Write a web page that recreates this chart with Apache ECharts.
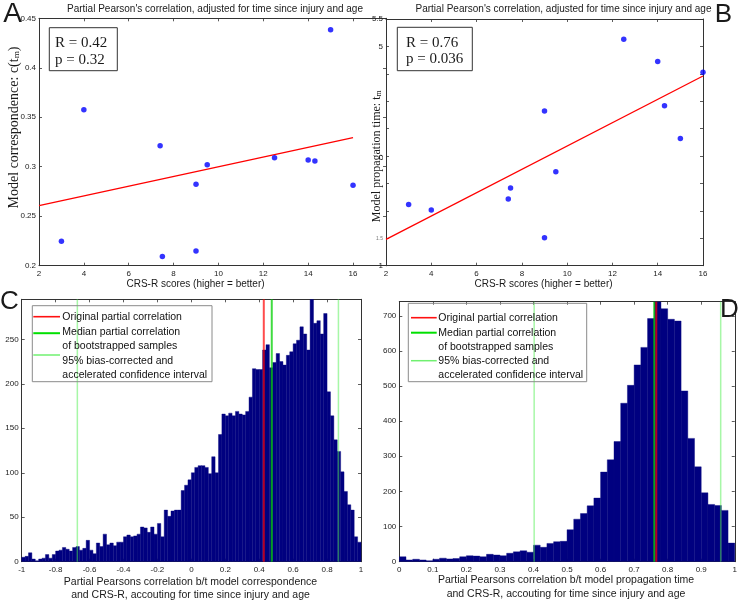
<!DOCTYPE html>
<html><head><meta charset="utf-8">
<script src="https://cdn.jsdelivr.net/npm/echarts@6/dist/echarts.min.js"></script>
<style>html,body{margin:0;padding:0;background:#fff}#c{width:740px;height:601px}</style>
</head><body><div id="c"></div>
<script>
// ---------------- DATA ----------------
const crsScores = [3, 4, 7.4, 7.5, 9, 9, 9.5, 12.5, 14, 14.3, 15, 16];
const correspondenceA = [0.2246, 0.3577, 0.3213, 0.2094, 0.2822, 0.2148, 0.3021, 0.3092, 0.3068, 0.3058, 0.4385, 0.2812];
const fitAx = [2, 16];
const fitAy = [0.2606, 0.3294];
const propagationB = [2.118, 2.015, 2.215, 2.416, 3.821, 1.510, 2.714, 5.129, 4.727, 3.918, 3.322, 4.527];
const fitBx = [2, 16];
const fitBy = [1.479, 4.46];
const statsA = ['R = 0.42', 'p = 0.32'];
const statsB = ['R = 0.76', 'p = 0.036'];

const histCStart = -1, histCWidth = 0.02;
const histC = [5,6,10,3,1,3,4,8,4,8,
  12,13,16,14,12,16,17,13,15,24,
  13,9,21,17,31,19,21,18,22,22,
  28,30,28,29,31,39,38,33,39,31,
  43,28,58,51,57,58,58,80,86,92,
  100,106,108,108,106,99,118,100,143,166,
  164,167,164,169,166,165,169,185,217,216,
  216,238,244,218,224,234,225,221,232,236,
  245,249,264,256,238,295,268,271,256,279,
  191,164,137,124,101,79,64,58,28,22];
const histDStart = 0, histDWidth = 0.02;
const histD = [14,5,7,5,3,7,10,8,9,14,
  17,16,14,21,19,17,24,28,31,27,
  47,41,52,57,58,91,121,137,159,181,
  255,290,342,451,502,560,610,692,742,720,
  690,685,486,351,270,196,163,160,146,53];
const linesC = {orig: 0.427, median: 0.474, ciLow: -0.672, ciHigh: 0.867};
const linesD = {orig: 0.766, median: 0.760, ciLow: 0.402, ciHigh: 0.958};
const legendLabels = ['Original partial correlation', 'Median partial correlation', 'of bootstrapped samples', '95% bias-corrected and', 'accelerated confidence interval'];
const titleTop = "Partial Pearson's correlation, adjusted for time since injury and age";
const xNameTop = 'CRS-R scores (higher = better)';
const yNameA = ['Model correspondence: c(t', 'm', ')'];
const yNameB = ['Model propagation time: t', 'm', ''];
const xNameC = ['Partial Pearsons correlation b/t model correspondence', 'and CRS-R, accouting for time since injury and age'];
const xNameD = ['Partial Pearsons correlation b/t model propagation time', 'and CRS-R, accouting for time since injury and age'];

// ---------------- STYLE / LAYOUT ----------------
const SANS = 'Liberation Sans, Arial, sans-serif';
const SERIF = 'Liberation Serif, Times New Roman, serif';
const AX = '#333';
const TXT = '#1a1a1a';
const fmtNum = v => String(+(+v).toFixed(3));

const grids = [
  {left: 39, top: 18.3, width: 347, height: 247.4},
  {left: 386, top: 19, width: 317, height: 246.7},
  {left: 21.7, top: 299.3, width: 339.3, height: 262.4},
  {left: 399.3, top: 301.7, width: 335.7, height: 260}
];
const ranges = [
  {x: [2, 17.47, 2], y: [0.2, 0.45, 0.05]},
  {x: [2, 16, 2], y: [1, 5.5, 0.5]},
  {x: [-1, 1, 0.2], y: [0, 295, 50]},
  {x: [0, 1, 0.1], y: [0, 740, 100]}
];

const tick = {show: true, inside: true, length: 3, lineStyle: {color: AX, width: 0.8}};
const aline = {show: true, onZero: false, lineStyle: {color: AX, width: 1}};
const lbl = (extra) => Object.assign({show: true, fontSize: 8, color: '#222', fontFamily: SANS, formatter: fmtNum}, extra || {});

const xAxes = [], yAxes = [];
ranges.forEach((r, gi) => {
  const xl = {margin: 4};
  if (gi === 0) xl.showMaxLabel = false;
  xAxes.push({type: 'value', gridIndex: gi, position: 'bottom', min: r.x[0], max: r.x[1], interval: r.x[2],
    axisLine: aline, axisTick: tick, splitLine: {show: false}, axisLabel: lbl(xl)});
  xAxes.push({type: 'value', gridIndex: gi, position: 'top', min: r.x[0], max: r.x[1], interval: r.x[2],
    axisLine: aline, axisTick: tick, splitLine: {show: false}, axisLabel: {show: false}});
  const yl = {margin: 3};
  if (gi >= 2) yl.showMaxLabel = false;
  if (gi === 1) {
    yl.formatter = v => {
      const s = fmtNum(v);
      if (s === '5.5' || s === '5' || s === '1') return s;
      if (s === '1.5') return '{t|1.5}';
      return '';
    };
    yl.rich = {t: {fontSize: 5, color: '#777', fontFamily: SANS}};
  }
  yAxes.push({type: 'value', gridIndex: gi, position: 'left', min: r.y[0], max: r.y[1], interval: r.y[2],
    axisLine: aline, axisTick: tick, splitLine: {show: false}, axisLabel: lbl(yl)});
  yAxes.push({type: 'value', gridIndex: gi, position: 'right', min: r.y[0], max: r.y[1], interval: r.y[2],
    axisLine: aline, axisTick: tick, splitLine: {show: false}, axisLabel: {show: false}});
});

function histSeries(xi, start, width, vals) {
  return {
    type: 'custom', xAxisIndex: xi, yAxisIndex: xi, z: 2, clip: true,
    data: vals.map((h, i) => [start + i * width, start + (i + 1) * width, h]),
    encode: {x: [0, 1], y: 2},
    renderItem: (params, api) => {
      const p0 = api.coord([api.value(0), api.value(2)]);
      const p1 = api.coord([api.value(1), 0]);
      return {type: 'rect', shape: {x: p0[0], y: p0[1], width: p1[0] - p0[0], height: p1[1] - p0[1]},
        style: {fill: '#000080', stroke: '#06067f', lineWidth: 0.4}};
    }
  };
}
function vline(xi, x, ymax, color, width, opacity) {
  return {type: 'line', xAxisIndex: xi, yAxisIndex: xi, z: 4, showSymbol: false, symbol: 'none', silent: true,
    data: [[x, 0], [x, ymax]], lineStyle: {color, width, opacity}};
}

const series = [
  {type: 'line', xAxisIndex: 0, yAxisIndex: 0, z: 2, symbol: 'none', data: fitAx.map((x, i) => [x, fitAy[i]]),
    lineStyle: {color: '#ff0000', width: 1.3}},
  {type: 'scatter', xAxisIndex: 0, yAxisIndex: 0, z: 3, symbolSize: 5.5, data: crsScores.map((x, i) => [x, correspondenceA[i]]),
    itemStyle: {color: '#0000ff'}},
  {type: 'line', xAxisIndex: 2, yAxisIndex: 2, z: 2, symbol: 'none', data: fitBx.map((x, i) => [x, fitBy[i]]),
    lineStyle: {color: '#ff0000', width: 1.3}},
  {type: 'scatter', xAxisIndex: 2, yAxisIndex: 2, z: 3, symbolSize: 5.5, data: crsScores.map((x, i) => [x, propagationB[i]]),
    itemStyle: {color: '#0000ff'}},
  histSeries(4, histCStart, histCWidth, histC),
  vline(4, linesC.ciLow, ranges[2].y[1], '#50f050', 1.5, 0.5),
  vline(4, linesC.ciHigh, ranges[2].y[1], '#50f050', 1.5, 0.5),
  vline(4, linesC.median, ranges[2].y[1], '#00d000', 2, 0.75),
  vline(4, linesC.orig, ranges[2].y[1], '#ff0000', 2, 0.7),
  histSeries(6, histDStart, histDWidth, histD),
  vline(6, linesD.ciLow, ranges[3].y[1], '#50f050', 1.5, 0.5),
  vline(6, linesD.ciHigh, ranges[3].y[1], '#50f050', 1.5, 0.5),
  vline(6, linesD.median, ranges[3].y[1], '#00d000', 2, 0.75),
  vline(6, linesD.orig, ranges[3].y[1], '#ff0000', 2, 0.7)
];

function txt(x, y, text, size, family, align, extra) {
  return Object.assign({type: 'text', x, y, z: 10, silent: true,
    style: {text, fontSize: size, fontFamily: family, fill: TXT, align: align || 'center', verticalAlign: 'middle',
      textAlign: align || 'center', textVerticalAlign: 'middle'}}, extra || {});
}
function legend(bx, by, bw, bh, lx0, lx1, tx, rows, sampleRows) {
  const g = [{type: 'rect', z: 9, silent: true, shape: {x: bx, y: by, width: bw, height: bh},
    style: {fill: 'none', stroke: '#8a8a8a', lineWidth: 1}}];
  legendLabels.forEach((t, i) => g.push({type: 'text', x: tx, y: rows[i], z: 10, silent: true,
    style: {text: t, fontSize: 10.5, fontFamily: SANS, fill: '#111', align: 'left', verticalAlign: 'middle', textAlign: 'left', textVerticalAlign: 'middle'}}));
  const cols = [['#ff1010', 1.6], ['#00e000', 2], ['#70f070', 1.5]];
  sampleRows.forEach((y, i) => g.push({type: 'line', z: 10, silent: true, shape: {x1: lx0, y1: y, x2: lx1, y2: y},
    style: {stroke: cols[i][0], lineWidth: cols[i][1]}}));
  return g;
}
function sub(x, y, parts, size, rot) {
  return {type: 'text', x, y, z: 10, silent: true, rotation: rot,
    style: {text: '{n|' + parts[0] + '}{s|' + parts[1] + '}' + (parts[2] ? '{n|' + parts[2] + '}' : ''),
      fontSize: size, fontFamily: SERIF, fill: TXT,
      align: 'center', verticalAlign: 'middle', textAlign: 'center', textVerticalAlign: 'middle',
      rich: {n: {fontSize: size, fontFamily: SERIF, fill: TXT, color: TXT, verticalAlign: 'bottom'},
             s: {fontSize: size * 0.65, fontFamily: SERIF, fill: TXT, color: TXT, verticalAlign: 'bottom', lineHeight: size * 0.45}}}};
}
const rowsC = [316.7, 332.2, 346.5, 361, 375];
const rowsD = [317.7, 332.7, 346.7, 360.7, 375];

const graphic = [
  txt(12.5, 14.5, 'A', 28, SANS),
  txt(723.5, 14.5, 'B', 26, SANS),
  txt(9.5, 301.5, 'C', 26, SANS),
  txt(729.5, 310, 'D', 26, SANS),
  txt(215, 9.3, titleTop, 10, SANS),
  txt(563.5, 9.3, titleTop, 10, SANS),
  txt(195.5, 284, xNameTop, 10, SANS),
  txt(543.5, 284, xNameTop, 10, SANS),
  txt(190.5, 581.7, xNameC[0], 10.5, SANS),
  txt(190.5, 595.2, xNameC[1], 10.5, SANS),
  txt(566, 580.3, xNameD[0], 10.5, SANS),
  txt(566, 594.3, xNameD[1], 10.5, SANS),
  sub(14, 127.5, yNameA, 14, Math.PI / 2),
  sub(376.7, 156.3, yNameB, 12, Math.PI / 2),
  {type: 'rect', z: 9, silent: true, shape: {x: 49.3, y: 27.7, width: 68, height: 43}, style: {fill: '#fff', stroke: '#333', lineWidth: 1}},
  txt(55, 42.7, statsA[0], 15, SERIF, 'left'),
  txt(55, 60, statsA[1], 15, SERIF, 'left'),
  {type: 'rect', z: 9, silent: true, shape: {x: 397.3, y: 27.3, width: 75, height: 43.4}, style: {fill: '#fff', stroke: '#333', lineWidth: 1}},
  txt(406, 42.7, statsB[0], 15, SERIF, 'left'),
  txt(406, 59.3, statsB[1], 15, SERIF, 'left')
].concat(
  legend(32.3, 305.7, 179.7, 76, 33.3, 60, 62.3, rowsC, [rowsC[0], rowsC[1] + 1, rowsC[3] - 6]),
  legend(408.3, 303.3, 178.4, 78.4, 411, 436.7, 438.3, rowsD, [rowsD[0], rowsD[1], rowsD[3]])
);

const chart = echarts.init(document.getElementById('c'), null, {renderer: 'canvas'});
chart.setOption({
  animation: false,
  backgroundColor: '#fff',
  grid: grids.map(g => Object.assign({containLabel: false, show: false}, g)),
  xAxis: xAxes,
  yAxis: yAxes,
  series,
  graphic
});
</script></body></html>
